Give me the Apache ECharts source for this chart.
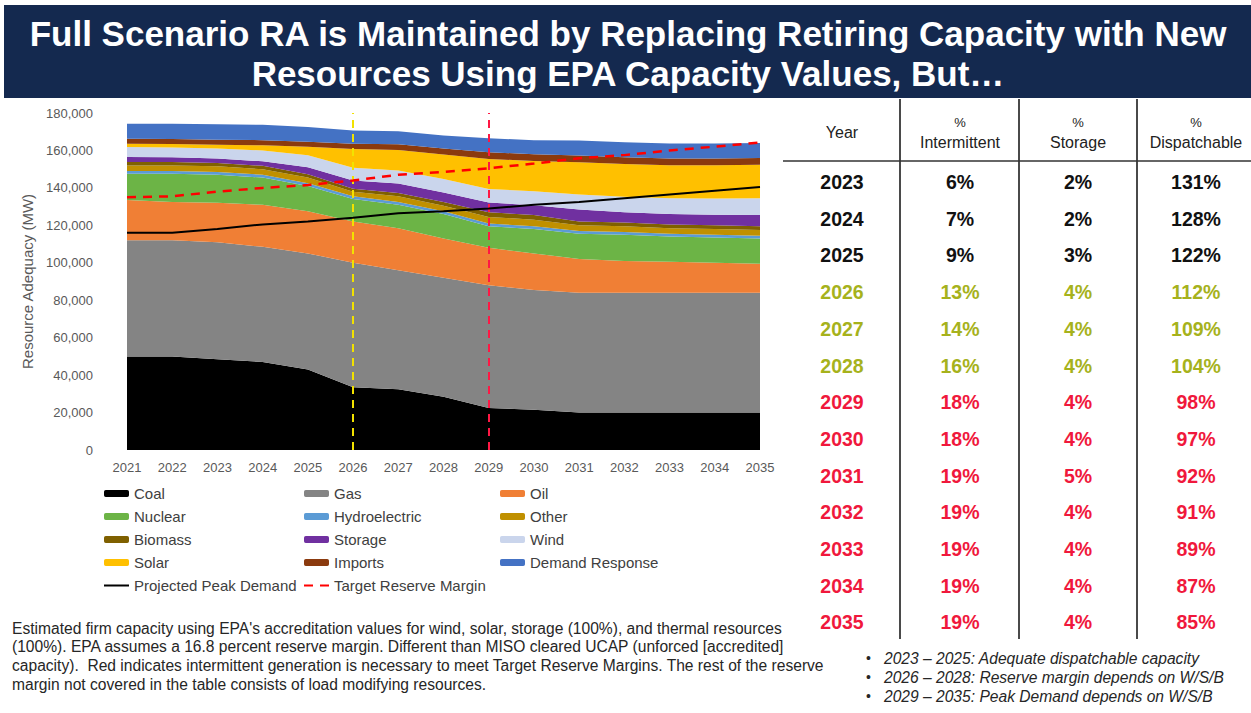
<!DOCTYPE html>
<html>
<head>
<meta charset="utf-8">
<title>Full Scenario RA</title>
<script src="https://cdn.jsdelivr.net/npm/echarts/dist/echarts.min.js"></script>
<style>
  html, body { margin: 0; padding: 0; background: #fff; }
  #chart { width: 1251px; height: 713px; }
</style>
</head>
<body>
<div id="chart"></div>
<script>
// years on the x axis
var years = ['2021', '2022', '2023', '2024', '2025', '2026', '2027', '2028',
             '2029', '2030', '2031', '2032', '2033', '2034', '2035'];

// stacked resource adequacy (MW)
var coal = [50000, 50000, 48500, 47000, 43000, 33500, 32500, 28500, 22500, 21500, 20000, 20000, 20000, 20000, 20000];
var gas = [62000, 62000, 62500, 61500, 62000, 66500, 63500, 63500, 65500, 64000, 64000, 64000, 64000, 64000, 64000];
var oil = [21500, 20500, 21000, 22500, 22500, 22000, 22500, 21000, 20000, 19500, 18000, 17000, 16500, 16000, 15500];
var nuclear = [14000, 15000, 15000, 14500, 13500, 12000, 12500, 13000, 11500, 13000, 13500, 14000, 13500, 13500, 13500];
var hydro = [1500, 1500, 1500, 1500, 1500, 1500, 1500, 1500, 1500, 1500, 1500, 1500, 1500, 1500, 1500];
var other = [3000, 3000, 3000, 3000, 3000, 2500, 3000, 3000, 3500, 3500, 3000, 3000, 3000, 3000, 3000];
var biomass = [1800, 1800, 1800, 1800, 1800, 1500, 1800, 2000, 2500, 2500, 2000, 2000, 2000, 2000, 2000];
var storage = [2700, 2500, 2400, 2400, 3700, 4500, 5000, 5100, 5200, 5200, 6500, 5500, 5500, 5600, 6000];
var wind = [5300, 5300, 5300, 5800, 6500, 6800, 7000, 7200, 7200, 7500, 8000, 8300, 8500, 8700, 8900];
var solar = [1800, 1800, 2000, 2800, 4500, 10000, 11000, 13000, 16000, 16200, 17200, 17500, 17600, 17800, 18000];
var imports = [2700, 2700, 2700, 2700, 2700, 2800, 3000, 3200, 3600, 3600, 3600, 3600, 3600, 3600, 3600];
var demandResponse = [8000, 8200, 8300, 8200, 7800, 7000, 7000, 7000, 7500, 7500, 8000, 8000, 8000, 8000, 8000];

// lines
var peakDemand = [116000, 116000, 118000, 120500, 122000, 124000, 126500, 127500, 129000, 131000, 132500, 134500, 136500, 138500, 140500];
var targetMargin = [135000, 135500, 138000, 140000, 141500, 144000, 147000, 148500, 150500, 153000, 155800, 157500, 160000, 162000, 164300];

// table on the right
var tableYears = ['2023', '2024', '2025', '2026', '2027', '2028', '2029', '2030', '2031', '2032', '2033', '2034', '2035'];
var pctIntermittent = ['6%', '7%', '9%', '13%', '14%', '16%', '18%', '18%', '19%', '19%', '19%', '19%', '19%'];
var pctStorage = ['2%', '2%', '3%', '4%', '4%', '4%', '4%', '4%', '5%', '4%', '4%', '4%', '4%'];
var pctDispatchable = ['131%', '128%', '122%', '112%', '109%', '104%', '98%', '97%', '92%', '91%', '89%', '87%', '85%'];
var rowGroup = [0, 0, 0, 1, 1, 1, 2, 2, 2, 2, 2, 2, 2];

var titleLines = ['Full Scenario RA is Maintained by Replacing Retiring Capacity with New',
                  'Resources Using EPA Capacity Values, But\u2026'];
var noteLines = [
  'Estimated firm capacity using EPA\'s accreditation values for wind, solar, storage (100%), and thermal resources',
  '(100%). EPA assumes a 16.8 percent reserve margin. Different than MISO cleared UCAP (unforced [accredited]',
  'capacity).  Red indicates intermittent generation is necessary to meet Target Reserve Margins. The rest of the reserve',
  'margin not covered in the table consists of load modifying resources.'
];
var bullets = ['2023 \u2013 2025: Adequate dispatchable capacity',
               '2026 \u2013 2028: Reserve margin depends on W/S/B',
               '2029 \u2013 2035: Peak Demand depends on W/S/B'];

var layerNames = ['Coal', 'Gas', 'Oil', 'Nuclear', 'Hydroelectric', 'Other', 'Biomass',
                  'Storage', 'Wind', 'Solar', 'Imports', 'Demand Response'];
var layerData = [coal, gas, oil, nuclear, hydro, other, biomass, storage, wind, solar, imports, demandResponse];
var layerColors = ['#000000', '#848484', '#F07F35', '#6CB446', '#5B9BD5', '#C09000', '#7F6000',
                   '#7030A0', '#CAD5EC', '#FFC000', '#8B3A0E', '#4472C4'];

var FONT = '"Liberation Sans", Arial, sans-serif';

var chart = echarts.init(document.getElementById('chart'), null, {renderer: 'svg'});

var series = layerNames.map(function (name, i) {
  return {
    name: name,
    type: 'line',
    stack: 'ra',
    data: layerData[i],
    symbol: 'none',
    lineStyle: {width: 0},
    itemStyle: {color: layerColors[i]},
    areaStyle: {color: layerColors[i], opacity: 1},
    z: 2
  };
});
series.push({
  name: 'Projected Peak Demand',
  type: 'line',
  data: peakDemand,
  symbol: 'none',
  itemStyle: {color: '#000'},
  lineStyle: {color: '#000', width: 2},
  z: 5
});
series.push({
  name: 'Target Reserve Margin',
  type: 'line',
  data: targetMargin,
  symbol: 'none',
  itemStyle: {color: '#FF0000'},
  lineStyle: {color: '#FF0000', width: 2.5, type: [9, 7]},
  z: 6,
  markLine: {
    symbol: 'none',
    silent: true,
    label: {show: false},
    data: [
      {xAxis: '2026', lineStyle: {color: '#F2E200', width: 2, type: [8, 6]}},
      {xAxis: '2029', lineStyle: {color: '#FF1744', width: 2, type: [8, 6]}}
    ]
  }
});

function legendCol(names, left) {
  return {
    orient: 'vertical',
    left: left,
    top: 486,
    itemWidth: 25,
    itemHeight: 7,
    itemGap: 8,
    padding: 0,
    textStyle: {fontFamily: FONT, fontSize: 15, color: '#404040'},
    data: names.map(function (n) {
      if (layerNames.indexOf(n) >= 0) return {name: n, icon: 'roundRect'};
      return {name: n, itemStyle: {opacity: 0}};
    })
  };
}

// graphic: banner, title, table, notes
var graphics = [
  {type: 'rect', shape: {x: 4, y: 5, width: 1247, height: 93}, style: {fill: '#14294F'}, z: 0}
];
titleLines.forEach(function (t, i) {
  graphics.push({
    type: 'text', x: 628, y: 33 + i * 40,
    style: {text: t, fill: '#fff', font: 'bold 35px ' + FONT, textAlign: 'center', textVerticalAlign: 'middle'}
  });
});

var colX = [842, 960, 1078, 1196];
[900, 1019, 1137].forEach(function (x) {
  graphics.push({type: 'line', shape: {x1: x, y1: 99, x2: x, y2: 639}, style: {stroke: '#4a4a4a', lineWidth: 2}});
});
graphics.push({type: 'line', shape: {x1: 783, y1: 161, x2: 1251, y2: 161}, style: {stroke: '#333', lineWidth: 1.5}});

var headStyle = {fill: '#222', font: '16px ' + FONT, textAlign: 'center', textVerticalAlign: 'middle'};
graphics.push({type: 'text', x: colX[0], y: 132, style: Object.assign({text: 'Year'}, headStyle)});
[['Intermittent', 1], ['Storage', 2], ['Dispatchable', 3]].forEach(function (h) {
  graphics.push({type: 'text', x: colX[h[1]], y: 122, style: Object.assign({}, headStyle, {text: '%', font: '13px ' + FONT})});
  graphics.push({type: 'text', x: colX[h[1]], y: 142, style: Object.assign({text: h[0]}, headStyle)});
});

var groupColors = ['#111111', '#A6B21C', '#F0183C'];
tableYears.forEach(function (yr, i) {
  var y = 182 + i * 36.7;
  var cells = [yr, pctIntermittent[i], pctStorage[i], pctDispatchable[i]];
  cells.forEach(function (c, j) {
    graphics.push({
      type: 'text', x: colX[j], y: y,
      style: {text: c, fill: groupColors[rowGroup[i]], font: 'bold 19.5px ' + FONT,
              textAlign: 'center', textVerticalAlign: 'middle'}
    });
  });
});

noteLines.forEach(function (t, i) {
  graphics.push({
    type: 'text', x: 12, y: 628 + i * 18.7,
    style: {text: t, fill: '#262626', font: '15.6px ' + FONT, textAlign: 'left', textVerticalAlign: 'middle'}
  });
});
bullets.forEach(function (t, i) {
  graphics.push({
    type: 'text', x: 866, y: 658 + i * 19,
    style: {text: '\u2022', fill: '#262626', font: '14px ' + FONT, textAlign: 'left', textVerticalAlign: 'middle'}
  });
  graphics.push({
    type: 'text', x: 884, y: 658 + i * 19,
    style: {text: t, fill: '#262626', font: 'italic 15.6px ' + FONT, textAlign: 'left', textVerticalAlign: 'middle'}
  });
});

var option = {
  backgroundColor: '#fff',
  animation: false,
  grid: {left: 127, right: 491, top: 113, bottom: 263},
  legend: [
    legendCol(['Coal', 'Nuclear', 'Biomass', 'Solar', 'Projected Peak Demand'], 103),
    legendCol(['Gas', 'Hydroelectric', 'Storage', 'Imports', 'Target Reserve Margin'], 303),
    legendCol(['Oil', 'Other', 'Wind', 'Demand Response'], 500)
  ],
  xAxis: {
    type: 'category',
    data: years,
    boundaryGap: false,
    axisLine: {show: false},
    axisTick: {show: false},
    axisLabel: {fontFamily: FONT, fontSize: 13, color: '#595959', margin: 11}
  },
  yAxis: {
    type: 'value',
    min: 0,
    max: 180000,
    interval: 20000,
    name: 'Resource Adequacy (MW)',
    nameLocation: 'middle',
    nameRotate: 90,
    nameGap: 92,
    nameTextStyle: {fontFamily: FONT, fontSize: 15, color: '#595959'},
    axisLine: {show: false},
    axisTick: {show: false},
    splitLine: {show: false},
    axisLabel: {fontFamily: FONT, fontSize: 13, color: '#595959', margin: 34}
  },
  series: series,
  graphic: graphics
};

chart.setOption(option);
</script>
</body>
</html>
